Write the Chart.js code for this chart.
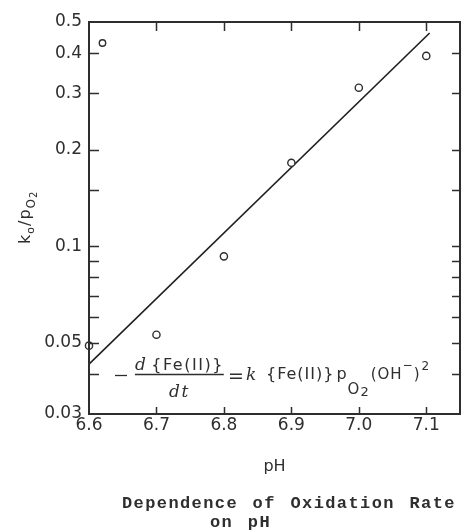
<!DOCTYPE html>
<html>
<head>
<meta charset="utf-8">
<script src="https://cdn.jsdelivr.net/npm/chart.js@4.4.0/dist/chart.umd.min.js"></script>
<style>
  html,body{margin:0;padding:0;background:#fff;}
</style>
</head>
<body>
<canvas id="ch" width="468" height="532"></canvas>
<script>
// measured k0/pO2 against pH
const phVals   = [6.6, 6.7, 6.8, 6.9, 7.0, 7.1];
const rateVals = [0.049, 0.053, 0.093, 0.182, 0.312, 0.392];
// odd mark near the top-left corner
const strayPh   = [6.62];
const strayRate = [0.43];
// straight-line fit on the log axis
const fitPh   = [6.6, 7.105];
const fitRate = [0.0429, 0.462];
// axes
const xTicks = [6.6, 6.7, 6.8, 6.9, 7.0, 7.1];
const yTicks = [0.03, 0.05, 0.1, 0.2, 0.3, 0.4, 0.5];
const yMarks = [0.04, 0.05, 0.06, 0.07, 0.08, 0.09, 0.1, 0.15, 0.2, 0.3, 0.4];
const caption = ['Dependence of Oxidation Rate', 'on pH'];

const INK = '#2e2e2e';
const SANS = '"DejaVu Sans", sans-serif';
const SERIF_I = 'italic 17px "DejaVu Serif", serif';

function pts(xs, ys){ return xs.map((x,i)=>({x, y:ys[i]})); }

// write a row of text pieces, each with its own font / vertical shift
function runs(ctx, x, y, parts){
  parts.forEach(p=>{
    ctx.font = p.f;
    ctx.fillText(p.t, x + (p.dx||0), y + (p.dy||0));
    x += ctx.measureText(p.t).width + (p.dx||0);
  });
  return x;
}

const frame = {
  id:'frame',
  afterDatasetsDraw(chart){
    const {ctx, chartArea:a, scales:{x, y}} = chart;
    ctx.save();
    ctx.strokeStyle = INK;
    ctx.lineWidth = 2;
    ctx.strokeRect(a.left, a.top, a.right-a.left, a.bottom-a.top);
    ctx.lineWidth = 1.5;
    ctx.beginPath();
    yMarks.forEach(v=>{
      const py = Math.round(y.getPixelForValue(v))+0.5;
      ctx.moveTo(a.left, py); ctx.lineTo(a.left+10, py);
      ctx.moveTo(a.right, py); ctx.lineTo(a.right-8, py);
    });
    xTicks.slice(1).forEach(v=>{
      const px = Math.round(x.getPixelForValue(v))+0.5;
      ctx.moveTo(px, a.bottom); ctx.lineTo(px, a.bottom-7);
      ctx.moveTo(px, a.top); ctx.lineTo(px, a.top+9);
    });
    ctx.stroke();
    ctx.restore();
  }
};

const labels = {
  id:'labels',
  afterDraw(chart){
    const {ctx, scales:{x, y}} = chart;
    ctx.save();
    ctx.fillStyle = INK;
    ctx.strokeStyle = INK;
    ctx.textBaseline = 'alphabetic';
    ctx.textAlign = 'left';

    // y axis label k0/pO2, rotated
    ctx.save();
    ctx.translate(30, 244);
    ctx.rotate(-Math.PI/2);
    ctx.letterSpacing = '1px';
    runs(ctx, 0, 0, [
      {t:'k', f:'16px '+SANS},
      {t:'o', f:'11px '+SANS, dy:4},
      {t:'/p', f:'16px '+SANS},
      {t:'O', f:'12px '+SANS, dy:5},
      {t:'2', f:'10px '+SANS, dy:7}
    ]);
    ctx.restore();

    // rate law written inside the plot
    const x0 = x.getPixelForValue(6.64);
    const yb = Math.round(y.getPixelForValue(0.04)) + 0.5;
    ctx.letterSpacing = '1.5px';
    ctx.lineWidth = 1.3;
    ctx.beginPath();
    ctx.moveTo(x0-1, yb+1); ctx.lineTo(x0+11, yb+1);
    ctx.stroke();
    const nx = x0 + 19;
    const nEnd = runs(ctx, nx, yb-5, [
      {t:'d', f:SERIF_I},
      {t:'{Fe(II)}', f:'16px '+SANS, dx:4}
    ]);
    ctx.beginPath();
    ctx.moveTo(nx, yb); ctx.lineTo(nEnd, yb);
    ctx.stroke();
    ctx.font = SERIF_I;
    const dw = ctx.measureText('dt').width;
    ctx.fillText('dt', (nx+nEnd)/2 - dw/2, yb+22);
    ctx.letterSpacing = '1px';
    runs(ctx, x0+112, yb+7, [
      {t:'=', f:'19px '+SANS},
      {t:'k', f:SERIF_I, dx:1, dy:-2}
    ]);
    runs(ctx, x0+150, yb+4, [
      {t:'{Fe(II)}', f:'16px '+SANS},
      {t:'p', f:'16px '+SANS, dx:2},
      {t:'O', f:'15px '+SANS, dy:15},
      {t:'2', f:'13px '+SANS, dy:17},
      {t:'(OH', f:'15px '+SANS, dx:1},
      {t:'\u2212', f:'12px '+SANS, dy:-10},
      {t:')', f:'15px '+SANS},
      {t:'2', f:'12px '+SANS, dx:1, dy:-9}
    ]);

    // caption under the chart
    ctx.font = 'bold 17px "Liberation Mono", monospace';
    ctx.letterSpacing = '1.4px';
    ctx.wordSpacing = '3px';
    ctx.fillText(caption[0], 122, 508);
    ctx.fillText(caption[1], 210, 527);
    ctx.restore();
  }
};

new Chart(document.getElementById('ch'), {
  type:'scatter',
  data:{
    datasets:[
      {
        data:pts(phVals, rateVals), clip:false,
        pointStyle:'circle', pointRadius:3.6, pointBorderWidth:1.4,
        pointBorderColor:INK, pointBackgroundColor:'#fff', showLine:false
      },
      {
        data:pts(strayPh, strayRate), clip:false,
        pointStyle:'circle', pointRadius:3.2, pointBorderWidth:1.4,
        pointBorderColor:INK, pointBackgroundColor:'#fff', showLine:false
      },
      {
        data:pts(fitPh, fitRate),
        showLine:true, borderColor:'#1e1e1e', borderWidth:1.6,
        pointRadius:0, fill:false
      }
    ]
  },
  options:{
    responsive:false, animation:false,
    layout:{padding:{left:0, top:22, right:8, bottom:56}},
    plugins:{legend:{display:false}, tooltip:{enabled:false}},
    scales:{
      x:{
        type:'linear', min:6.6, max:7.15,
        afterBuildTicks:s=>{ s.ticks = xTicks.map(v=>({value:v})); },
        afterFit:s=>{ s.height = 62; },
        grid:{display:false, drawTicks:false}, border:{display:false},
        ticks:{autoSkip:false, maxRotation:0, padding:1, color:INK,
          font:{family:SANS, size:17}, callback:v=>v.toFixed(1)},
        title:{display:true, text:'pH', color:INK, font:{family:SANS, size:16},
          padding:{top:0, bottom:0}}
      },
      y:{
        type:'logarithmic', min:0.03, max:0.5,
        afterBuildTicks:s=>{ s.ticks = yTicks.map(v=>({value:v})); },
        afterFit:s=>{ s.width = 89; },
        grid:{display:false, drawTicks:false}, border:{display:false},
        ticks:{autoSkip:false, padding:7, color:INK,
          font:{family:SANS, size:17}, callback:v=>String(v)}
      }
    }
  },
  plugins:[frame, labels]
});
</script>
</body>
</html>
